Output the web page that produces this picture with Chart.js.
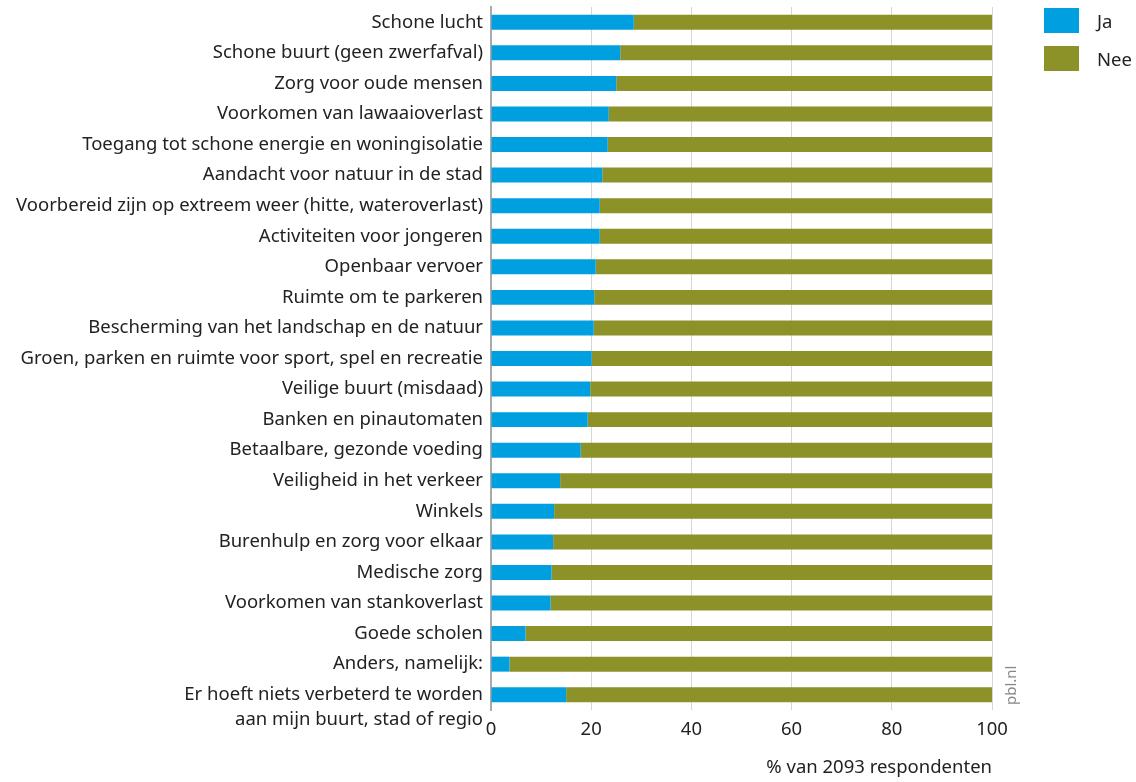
<!DOCTYPE html>
<html>
<head>
<meta charset="utf-8">
<script src="https://cdn.jsdelivr.net/npm/chart.js@4"></script>
<style>
  html, body { margin: 0; padding: 0; background: #fff; }
  #wrap { position: relative; width: 1136px; height: 782px; }
  #legend { position: absolute; left: 1044px; top: 8px; font-family: 'Noto Sans', sans-serif; font-size: 18.5px; color: #222; }
  .item { display: flex; align-items: center; height: 25px; margin-bottom: 13px; }
  .box { width: 35px; height: 25px; margin-right: 18px; }
</style>
</head>
<body>
<div id="wrap">
  <canvas id="chart" width="1136" height="782"></canvas>
  <div id="legend"></div>
</div>
<script>
const categories = [
  'Schone lucht',
  'Schone buurt (geen zwerfafval)',
  'Zorg voor oude mensen',
  'Voorkomen van lawaaioverlast',
  'Toegang tot schone energie en woningisolatie',
  'Aandacht voor natuur in de stad',
  'Voorbereid zijn op extreem weer (hitte, wateroverlast)',
  'Activiteiten voor jongeren',
  'Openbaar vervoer',
  'Ruimte om te parkeren',
  'Bescherming van het landschap en de natuur',
  'Groen, parken en ruimte voor sport, spel en recreatie',
  'Veilige buurt (misdaad)',
  'Banken en pinautomaten',
  'Betaalbare, gezonde voeding',
  'Veiligheid in het verkeer',
  'Winkels',
  'Burenhulp en zorg voor elkaar',
  'Medische zorg',
  'Voorkomen van stankoverlast',
  'Goede scholen',
  'Anders, namelijk:',
  'Er hoeft niets verbeterd te worden'
];
// second line of the last label
const lastLabelExtra = 'aan mijn buurt, stad of regio';

const ja = [28.5, 25.8, 25.0, 23.5, 23.3, 22.2, 21.7, 21.7, 20.9, 20.6, 20.5, 20.1, 19.8, 19.3, 17.9, 13.8, 12.6, 12.4, 12.1, 11.9, 6.9, 3.7, 15.0];
const nee = ja.map(v => +(100 - v).toFixed(1));

const seriesNames = ['Ja', 'Nee'];
const seriesColors = ['#009fdf', '#8c9128'];
const xTicks = [0, 20, 40, 60, 80, 100];
const xTitle = '% van 2093 respondenten';
const source = 'pbl.nl';

const FONT = "'Noto Sans', sans-serif";
const SIZE = 18.5;

// html legend
const legendEl = document.getElementById('legend');
seriesNames.forEach((name, i) => {
  const row = document.createElement('div');
  row.className = 'item';
  row.innerHTML = `<span class="box" style="background:${seriesColors[i]}"></span><span>${name}</span>`;
  legendEl.appendChild(row);
});

const extras = {
  id: 'extras',
  afterDraw(chart) {
    const { ctx, chartArea, scales } = chart;
    ctx.save();
    // second line of the last y label
    const y = scales.y.getPixelForValue(categories.length - 1) + 25;
    ctx.font = `${SIZE}px ${FONT}`;
    ctx.fillStyle = '#222';
    ctx.textAlign = 'right';
    ctx.textBaseline = 'middle';
    ctx.fillText(lastLabelExtra, chartArea.left - 8, y);
    // source tag
    ctx.translate(chartArea.right + 20, chartArea.bottom - 5);
    ctx.rotate(-Math.PI / 2);
    ctx.font = `15px ${FONT}`;
    ctx.fillStyle = '#888';
    ctx.textAlign = 'left';
    ctx.fillText(source, 0, 0);
    ctx.restore();
  }
};

new Chart(document.getElementById('chart'), {
  type: 'bar',
  data: {
    labels: categories,
    datasets: [
      { label: seriesNames[0], data: ja, backgroundColor: seriesColors[0] },
      { label: seriesNames[1], data: nee, backgroundColor: seriesColors[1] }
    ]
  },
  options: {
    indexAxis: 'y',
    responsive: false,
    animation: false,
    categoryPercentage: 1,
    barPercentage: 0.49,
    layout: { padding: { top: 7, right: 144, left: 0, bottom: 0 } },
    plugins: {
      legend: { display: false },
      tooltip: { enabled: false }
    },
    scales: {
      x: {
        stacked: true,
        min: 0,
        max: 100,
        afterBuildTicks: (scale) => { scale.ticks = xTicks.map(v => ({ value: v })); },
        afterFit: (scale) => { scale.height = 72; scale.paddingLeft = 0; scale.paddingRight = 0; },
        grid: { color: '#d6d6d6', lineWidth: 1, drawTicks: false },
        border: { display: false },
        ticks: { padding: 9, color: '#222', font: { family: FONT, size: SIZE } },
        title: {
          display: true,
          text: xTitle,
          align: 'end',
          color: '#222',
          font: { family: FONT, size: SIZE },
          padding: { top: 0, bottom: 3 }
        }
      },
      y: {
        stacked: true,
        afterFit: (scale) => { scale.width = 491; scale.paddingTop = 0; scale.paddingBottom = 0; },
        grid: { display: false, drawTicks: false },
        border: { display: true, color: '#aaaaaa', width: 2 },
        ticks: { padding: 8, color: '#222', font: { family: FONT, size: SIZE } }
      }
    }
  },
  plugins: [extras]
});
</script>
</body>
</html>
